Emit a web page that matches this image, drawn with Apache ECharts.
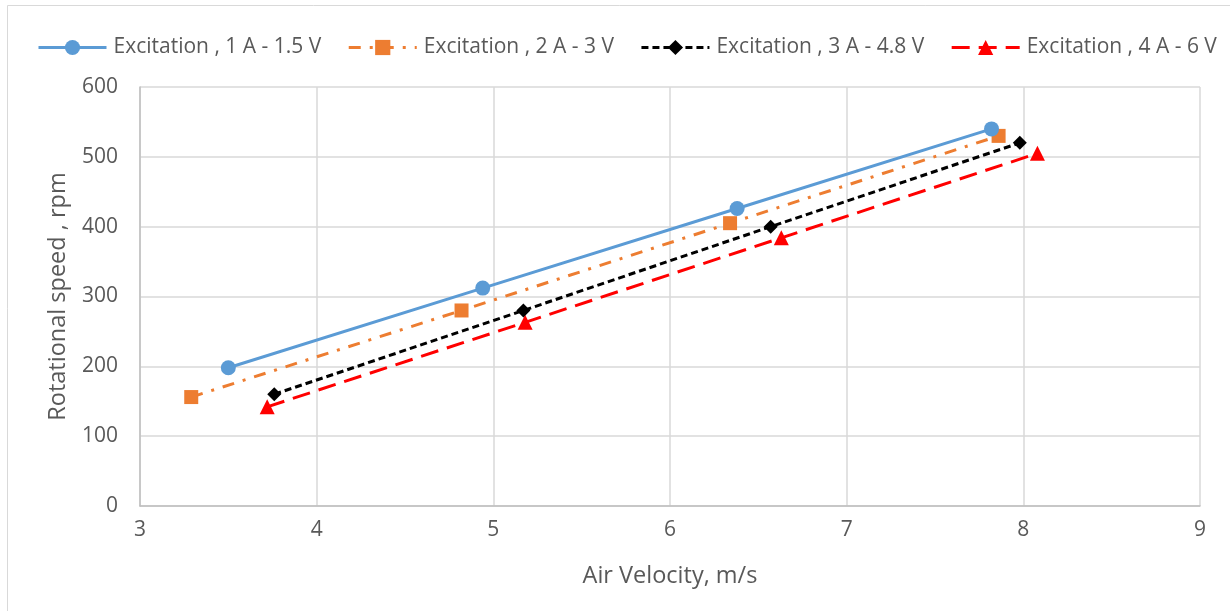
<!DOCTYPE html>
<html>
<head>
<meta charset="utf-8">
<script src="https://cdn.jsdelivr.net/npm/echarts@6/dist/echarts.min.js"></script>
<style>
html,body{margin:0;padding:0;background:#fff;}
#chart{width:1230px;height:611px;}
</style>
</head>
<body>
<div id="chart"></div>
<script>
const seriesNames = ['Excitation , 1 A - 1.5 V','Excitation , 2 A - 3 V','Excitation , 3 A - 4.8 V','Excitation , 4 A - 6 V'];
const s1x = [3.50, 4.94, 6.38, 7.82];
const s1y = [198, 312, 426, 540];
const s2x = [3.29, 4.82, 6.34, 7.86];
const s2y = [156, 280, 405, 530];
const s3x = [3.76, 5.17, 6.57, 7.98];
const s3y = [160, 280, 400, 520];
const s4x = [3.72, 5.18, 6.63, 8.08];
const s4y = [142, 263, 384, 505];
const xTicks = [3,4,5,6,7,8,9];
const yTicks = [0,100,200,300,400,500,600];

const pair = (xs, ys) => xs.map((x,i)=>[x, ys[i]]);
const FONT = 'Open Sans';
const chart = echarts.init(document.getElementById('chart'), null, {renderer:'canvas'});

const styles = [
  {color:'#5b9bd5', type:'solid', symbol:'circle', size:15},
  {color:'#ed7d31', type:[12,9,3,9], symbol:'rect', size:14},
  {color:'#000000', type:[7,4], symbol:'diamond', size:14},
  {color:'#ff0000', type:[18,9], symbol:'triangle', size:15}
];
const data = [pair(s1x,s1y), pair(s2x,s2y), pair(s3x,s3y), pair(s4x,s4y)];

chart.setOption({
  animation:false,
  backgroundColor:'#fff',
  textStyle:{fontFamily:FONT},
  graphic:[{type:'rect', shape:{x:7.5,y:5.5,width:1240,height:620}, style:{fill:'none', stroke:'#d9d9d9', lineWidth:1}, silent:true, z:-10}],
  legend:{
    top:32, left:32,
    itemWidth:68, itemHeight:19, itemGap:26,
    lineStyle:{width:3},
    textStyle:{fontFamily:FONT, fontSize:21, color:'#595959', padding:[0,0,0,2]},
    data:seriesNames
  },
  grid:{left:140, right:30, top:87, bottom:105, containLabel:false},
  xAxis:{
    type:'value', min:3, max:9, interval:1,
    name:'Air Velocity, m/s', nameLocation:'middle', nameGap:58,
    nameTextStyle:{fontFamily:FONT, fontSize:23.5, color:'#595959'},
    axisLine:{show:true, onZero:false, lineStyle:{color:'#bfbfbf', width:1.5}},
    axisTick:{show:false},
    axisLabel:{fontFamily:FONT, fontSize:21, color:'#595959', margin:14},
    splitLine:{show:true, lineStyle:{color:'#d9d9d9', width:1.5}}
  },
  yAxis:{
    type:'value', min:0, max:600, interval:100,
    name:'Rotational speed , rpm', nameLocation:'middle', nameGap:70,
    nameTextStyle:{fontFamily:FONT, fontSize:23.5, color:'#595959'},
    axisLine:{show:true, lineStyle:{color:'#bfbfbf', width:1.5}},
    axisTick:{show:false},
    axisLabel:{fontFamily:FONT, fontSize:21, color:'#595959', margin:22},
    splitLine:{show:true, lineStyle:{color:'#d9d9d9', width:1.5}}
  },
  series: seriesNames.map((n,i)=>({
    name:n, type:'line', data:data[i],
    symbol:styles[i].symbol, symbolSize:styles[i].size,
    lineStyle:{color:styles[i].color, width:3, type:styles[i].type},
    itemStyle:{color:styles[i].color},
    z: 10 - i
  }))
});
</script>
</body>
</html>
